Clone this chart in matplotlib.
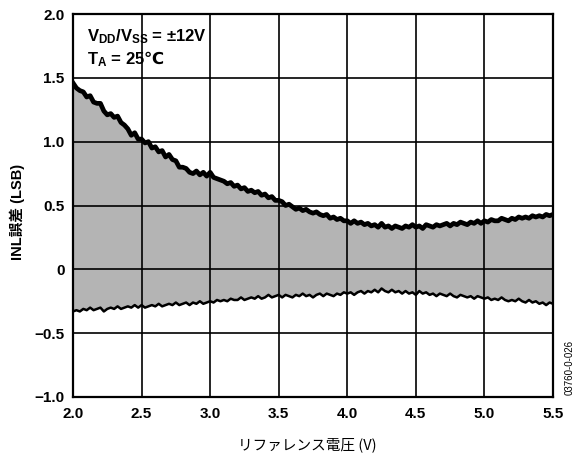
import numpy as np
import matplotlib
matplotlib.use("Agg")
import matplotlib.pyplot as plt

# Sampling grid of reference voltage (V)
x_start, x_step = 2.0, 0.025

inl_upper = [
    1.46, 1.42, 1.40, 1.39,
    1.35, 1.36, 1.31, 1.30,
    1.30, 1.24, 1.21, 1.22,
    1.19, 1.20, 1.15, 1.13,
    1.10, 1.05, 1.07, 1.02,
    1.02, 0.99, 1.00, 0.95,
    0.96, 0.92, 0.93, 0.88,
    0.90, 0.86, 0.85, 0.80,
    0.80, 0.79, 0.76, 0.75,
    0.77, 0.74, 0.76, 0.73,
    0.76, 0.72, 0.71, 0.70,
    0.69, 0.67, 0.68, 0.65,
    0.66, 0.63, 0.64, 0.61,
    0.62, 0.60, 0.61, 0.58,
    0.59, 0.56, 0.57, 0.54,
    0.54, 0.53, 0.50, 0.51,
    0.49, 0.47, 0.48, 0.46,
    0.47, 0.45, 0.44, 0.45,
    0.43, 0.42, 0.43, 0.40,
    0.41, 0.39, 0.40, 0.38,
    0.38, 0.36, 0.38, 0.36,
    0.37, 0.35, 0.36, 0.34,
    0.35, 0.33, 0.36, 0.33,
    0.34, 0.32, 0.34, 0.33,
    0.32, 0.34, 0.33, 0.35,
    0.33, 0.34, 0.32, 0.35,
    0.34, 0.33, 0.35, 0.34,
    0.35, 0.36, 0.34, 0.36,
    0.35, 0.37, 0.36, 0.35,
    0.37, 0.36, 0.38, 0.36,
    0.38, 0.37, 0.39, 0.38,
    0.38, 0.40, 0.39, 0.38,
    0.40, 0.39, 0.41, 0.40,
    0.41, 0.40, 0.42, 0.41,
    0.42, 0.41, 0.43, 0.42,
    0.43,
]

inl_lower = [
    -0.33, -0.32, -0.33, -0.31,
    -0.32, -0.30, -0.32, -0.31,
    -0.30, -0.33, -0.31, -0.30,
    -0.31, -0.29, -0.31, -0.30,
    -0.29, -0.30, -0.28, -0.30,
    -0.28, -0.30, -0.29, -0.28,
    -0.29, -0.27, -0.29, -0.28,
    -0.27, -0.28, -0.26, -0.28,
    -0.27, -0.26, -0.28, -0.26,
    -0.27, -0.25, -0.27, -0.26,
    -0.25, -0.26, -0.24, -0.25,
    -0.24, -0.25, -0.23, -0.24,
    -0.24, -0.22, -0.24, -0.23,
    -0.22, -0.23, -0.21, -0.23,
    -0.22, -0.20, -0.22, -0.21,
    -0.20, -0.22, -0.20, -0.21,
    -0.22, -0.20, -0.21, -0.19,
    -0.21, -0.20, -0.22, -0.20,
    -0.19, -0.21, -0.19, -0.20,
    -0.21, -0.19, -0.20, -0.18,
    -0.19, -0.18, -0.20, -0.18,
    -0.17, -0.19, -0.17, -0.18,
    -0.16, -0.18, -0.15, -0.17,
    -0.18, -0.16, -0.18, -0.17,
    -0.19, -0.17, -0.19, -0.18,
    -0.20, -0.17, -0.19, -0.18,
    -0.20, -0.19, -0.21, -0.19,
    -0.20, -0.21, -0.19, -0.21,
    -0.22, -0.20, -0.21, -0.22,
    -0.21, -0.23, -0.21, -0.22,
    -0.23, -0.22, -0.24, -0.23,
    -0.24, -0.22, -0.24, -0.25,
    -0.24, -0.25, -0.23, -0.25,
    -0.26, -0.24, -0.26, -0.25,
    -0.27, -0.26, -0.28, -0.26,
    -0.27,
]

x_ticks = [2.0, 2.5, 3.0, 3.5, 4.0, 4.5, 5.0, 5.5]
y_ticks = [-1.0, -0.5, 0, 0.5, 1.0, 1.5, 2.0]
y_tick_labels = ["\u22121.0", "\u22120.5", "0", "0.5", "1.0", "1.5", "2.0"]

xlabel = "リファレンス電圧 (V)"
ylabel = "INL誤差 (LSB)"
note1 = r"V$_{\mathregular{DD}}$/V$_{\mathregular{SS}}$ = ±12V"
note2 = r"T$_{\mathregular{A}}$ = 25$\mathrm{℃}$"
code = "03760-0-026"

n = len(inl_upper)
volts = x_start + x_step * np.arange(n)

plt.rcParams['font.family'] = ['Liberation Sans', 'Noto Sans CJK JP', 'DejaVu Sans']
plt.rcParams['mathtext.default'] = 'regular'
plt.rcParams['mathtext.fontset'] = 'custom'
plt.rcParams['mathtext.rm'] = 'DejaVu Sans:bold'

fig = plt.figure(figsize=(5.81, 4.58), dpi=100)
ax = fig.add_axes([73/581, 1 - 397/458, 480/581, 383/458])

ax.fill_between(volts, inl_lower, inl_upper, color="#b4b4b4", lw=0, zorder=1)
ax.plot(volts, inl_upper, color="black", lw=3.4, zorder=3)
ax.plot(volts, inl_lower, color="black", lw=1.8, zorder=3)

ax.set_xlim(2.0, 5.5)
ax.set_ylim(-1.0, 2.0)
ax.set_xticks(x_ticks)
ax.set_xticklabels([f"{t:.1f}" for t in x_ticks])
ax.set_yticks(y_ticks)
ax.set_yticklabels(y_tick_labels)
ax.grid(True, color="black", lw=1.2, zorder=2)
ax.set_axisbelow(False)
ax.tick_params(length=0, labelsize=11)
ax.tick_params(axis='x', pad=7)
ax.tick_params(axis='y', pad=6)
for lbl in ax.get_xticklabels() + ax.get_yticklabels():
    lbl.set_fontweight("bold")
for s in ax.spines.values():
    s.set_linewidth(1.6)
    s.set_zorder(4)

ax.set_xlabel(xlabel, fontsize=10.5,
              family=['Noto Sans CJK JP', 'DejaVu Sans'])
ax.xaxis.set_label_coords((307 - 73) / 480, -(445 - 397) / 383)
ax.set_ylabel(ylabel, fontsize=10.5, fontweight='bold',
              family=['Liberation Sans', 'Noto Sans CJK JP', 'DejaVu Sans'])
ax.yaxis.set_label_coords(-(73 - 17) / 480, (397 - 212) / 383)
ax.xaxis.label.set_va('center')
ax.yaxis.label.set_va('center')

ax.text(0.03, (397 - 37) / 383, note1, transform=ax.transAxes, fontsize=12,
        fontweight='bold', va='center', ha='left', zorder=5)
ax.text(0.03, (397 - 59) / 383, note2, transform=ax.transAxes, fontsize=12,
        fontweight='bold', va='center', ha='left', zorder=5)

fig.text(570/581, 1 - 367/458, code, rotation=90, fontsize=7,
         ha='center', va='center')

fig.savefig("out.png", dpi=100)
